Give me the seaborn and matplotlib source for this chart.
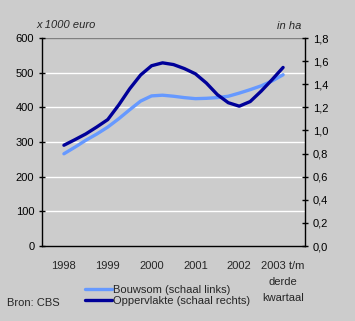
import matplotlib
matplotlib.use("Agg")
import matplotlib.pyplot as plt
import seaborn as sns
import pandas as pd
import numpy as np
from matplotlib.lines import Line2D

sns.set_style("white")
plt.rcParams['font.family'] = ['Liberation Sans', 'DejaVu Sans']

years = ["1998", "1999", "2000", "2001", "2002", "2003 t/m\nderde\nkwartaal"]
# quarterly positions (in category units from 1998)
quarter_pos = [0, 0.25, 0.5, 0.75, 1, 1.25, 1.5, 1.75, 2, 2.25, 2.5, 2.75,
               3, 3.25, 3.5, 3.75, 4, 4.25, 4.5, 4.75, 5]
bouwsom = [266, 285, 305, 323, 343, 367, 393, 418, 433, 435, 432, 428,
           425, 426, 428, 432, 441, 451, 462, 476, 494]
oppervlakte = [0.872, 0.92, 0.97, 1.03, 1.094, 1.22, 1.36, 1.48, 1.56, 1.585, 1.57, 1.535,
               1.49, 1.41, 1.31, 1.24, 1.21, 1.25, 1.34, 1.44, 1.545]
left_ticks = [0, 100, 200, 300, 400, 500, 600]
right_ticks = [0, 0.2, 0.4, 0.6, 0.8, 1.0, 1.2, 1.4, 1.6, 1.8]

df = pd.DataFrame({"pos": quarter_pos, "bouwsom": bouwsom, "opp": oppervlakte})

bg = "#CCCCCC"
light = "#6699FF"
dark = "#000099"

fig = plt.figure(figsize=(3.55, 3.21), dpi=100, facecolor=bg)
ax = fig.add_axes([42/355, 1-246/321, (305-42)/355, (246-38)/321])
ax.set_facecolor(bg)
ax2 = ax.twinx()

for y in left_ticks[1:-1]:
    ax.axhline(y, color="white", lw=1.0, zorder=0)
ax.axhline(600, color="#808080", lw=1.0, zorder=0)

sns.lineplot(data=df, x="pos", y="bouwsom", ax=ax, color=light, lw=2.4, legend=False)
sns.lineplot(data=df, x="pos", y="opp", ax=ax2, color=dark, lw=2.4, legend=False)

ax.set_xlim(-0.5, 5.5)
ax.set_ylim(0, 600)
ax2.set_ylim(0, 1.8)
ax.set_xlabel("")
ax.set_ylabel("")
ax2.set_ylabel("")

ax.set_yticks(left_ticks)
ax.set_yticklabels([str(v) for v in left_ticks], fontsize=8)
ax2.set_yticks(right_ticks)
ax2.set_yticklabels([f"{v:.1f}".replace(".", ",") for v in right_ticks], fontsize=8)

ax.set_xticks(range(len(years)))
ax.set_xticklabels(years, fontsize=8, linespacing=1.75, va="top")
ax.tick_params(axis="x", length=0, pad=11)
ax.set_xticks(np.arange(-0.5, 6.0, 1.0), minor=True)
ax.tick_params(axis="x", which="minor", length=4, direction="inout", width=1)
ax.tick_params(axis="y", length=5, direction="inout", width=1, pad=3, colors="black")
ax2.tick_params(axis="y", length=5, direction="inout", width=1, pad=3, colors="black")

for a in (ax, ax2):
    a.spines["top"].set_visible(False)
    for s in ("left", "right", "bottom"):
        a.spines[s].set_color("black")
        a.spines[s].set_linewidth(1.0)
ax.spines["right"].set_visible(False)
ax2.spines["left"].set_visible(False)
ax2.spines["bottom"].set_visible(False)

fig.text(36/355, 1-25/321, "x 1000 euro", fontsize=8, style="italic", va="center", ha="left")
fig.text(301/355, 1-26/321, "in ha", fontsize=8, style="italic", va="center", ha="right")

# legend
handles = [Line2D([], [], color=light, lw=2.4), Line2D([], [], color=dark, lw=2.4)]
fig.legend(handles, ["Bouwsom (schaal links)", "Oppervlakte (schaal rechts)"],
           loc="upper left", bbox_to_anchor=(85/355, 1-285/321), frameon=False,
           fontsize=8, handlelength=2.4, handletextpad=0.15, labelspacing=0.1,
           borderpad=0, borderaxespad=0)
fig.text(7/355, 1-303/321, "Bron: CBS", fontsize=8, va="center", ha="left")

fig.savefig("out.png", dpi=100, facecolor=bg)
